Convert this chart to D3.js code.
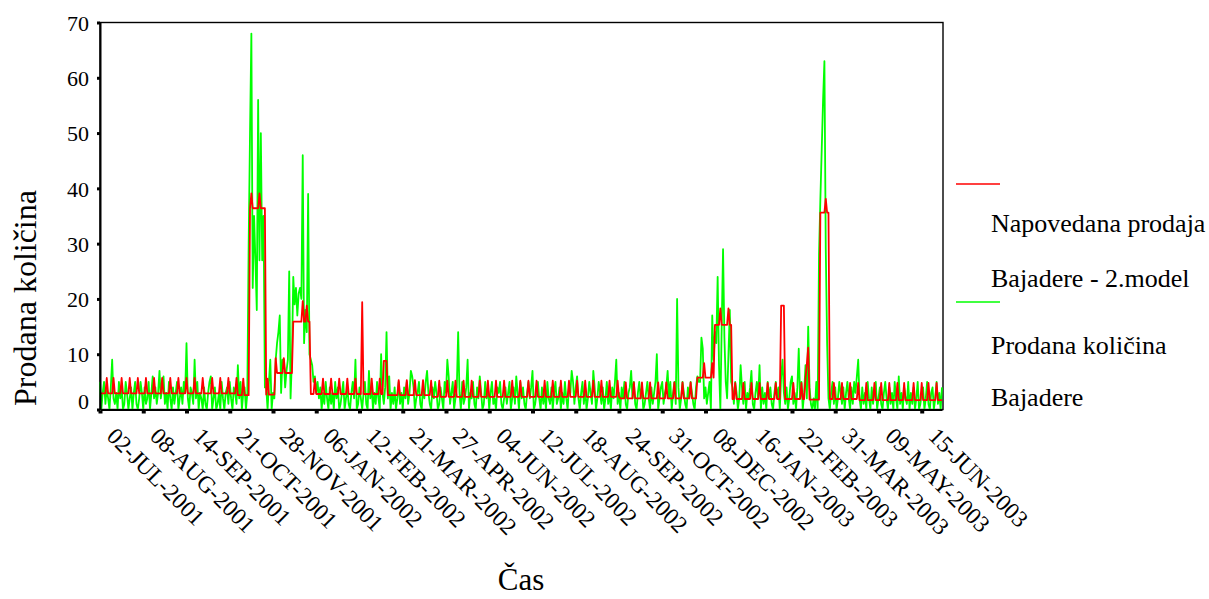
<!DOCTYPE html>
<html>
<head>
<meta charset="utf-8">
<script src="https://cdn.jsdelivr.net/npm/d3@7"></script>
<style>
  body { margin: 0; background: #fff; }
  svg { display: block; font-family: "Liberation Serif", "Times New Roman", serif; }
</style>
</head>
<body>
<div id="chart"></div>
<script>
/* global d3 */

const tickLabels = ["02-JUL-2001", "08-AUG-2001", "14-SEP-2001", "21-OCT-2001",
  "28-NOV-2001", "06-JAN-2002", "12-FEB-2002", "21-MAR-2002", "27-APR-2002",
  "04-JUN-2002", "12-JUL-2002", "18-AUG-2002", "24-SEP-2002", "31-OCT-2002",
  "08-DEC-2002", "16-JAN-2003", "22-FEB-2003", "31-MAR-2003", "09-MAY-2003",
  "15-JUN-2003"];

const yTicks = [0, 10, 20, 30, 40, 50, 60, 70];

// Prodana količina Bajadere (daily, Sundays skipped)
const sold = [
  5,0,3,5,1,4,2,0,4,9,2,1,
  3,0,5,2,4,0,1,5,3,0,2,4,
  0,3,5,1,0,2,5,3,0,4,1,2,
  5,0,3,6,2,4,1,3,7,2,4,6,
  1,3,0,5,2,0,4,1,3,5,0,2,
  4,1,5,3,12,2,0,4,3,1,9,2,
  5,0,3,2,0,4,1,0,3,5,6,0,
  2,4,0,1,3,0,5,2,0,3,4,1,
  5,2,0,4,3,1,8,2,5,0,3,4,
  0,3,30,50,68,22,35,27,18,56,27,50,
  27,35,4,4,0,5,9,0,3,2,9,12,
  14,17,3,9,9,4,7,9,25,2,9,24,
  19,22,17,21,22,20,46,12,18,14,39,10,
  9,8,5,6,3,5,2,4,0,3,1,5,
  2,0,4,1,3,0,5,2,4,0,1,3,
  5,0,2,4,1,0,3,5,2,9,0,1,
  4,2,0,3,5,1,0,7,2,4,0,3,
  1,5,2,0,10,3,1,4,14,2,6,0,
  3,1,4,0,2,5,1,3,0,4,2,5,
  1,3,7,6,4,0,2,3,5,1,0,4,
  2,5,7,3,1,0,4,2,5,3,0,1,
  4,2,0,5,3,9,6,1,3,5,0,2,
  4,14,3,0,5,1,2,4,9,0,3,2,
  5,1,0,4,2,6,3,0,1,5,2,4,
  0,3,5,1,2,0,4,3,5,1,0,2,
  4,1,3,5,0,2,4,1,6,3,0,5,
  2,4,1,0,3,5,2,4,7,0,1,3,
  5,2,0,4,1,3,0,5,2,1,4,0,
  3,5,1,2,4,0,3,1,5,2,0,4,
  3,7,5,1,4,6,2,0,3,5,1,4,
  0,2,5,3,1,7,4,0,2,5,3,1,
  4,0,2,5,1,3,0,4,2,5,9,1,
  3,0,4,2,5,1,0,3,4,7,2,5,
  1,0,3,5,2,4,0,1,3,5,2,0,
  4,1,3,5,10,0,2,4,5,1,3,4,
  7,2,5,0,3,5,1,20,4,0,2,5,
  3,1,0,4,2,5,3,1,0,4,6,5,
  5,13,11,2,4,1,3,5,0,17,9,14,
  12,24,8,0,15,29,13,5,2,10,18,5,
  4,1,5,3,0,2,8,4,1,5,0,3,
  2,4,7,1,0,3,5,2,8,0,4,1,
  3,0,5,2,4,1,0,3,5,2,4,0,
  6,9,3,1,4,0,2,5,6,1,3,0,
  4,11,2,5,0,3,8,2,15,4,1,0,
  2,0,5,0,28,38,47,56,63,29,12,2,
  0,3,5,1,4,0,2,5,3,1,4,0,
  3,5,2,0,4,1,5,3,6,9,2,0,
  4,1,3,0,5,2,0,4,1,3,5,0,
  2,4,1,0,3,5,2,0,4,1,3,0,
  5,2,0,6,1,3,0,4,2,1,5,0,
  3,1,4,0,2,5,0,1,3,4,0,2,
  5,1,0,3,4,0,2,5,1,3,0,4
];

// Napovedana prodaja Bajadere - 2.model
const forecast = [
  2.9,2.9,2.9,2.9,2.9,5.7,2.9,2.9,2.9,2.9,5.7,2.9,
  2.9,2.9,2.9,2.9,5.7,2.9,2.9,2.9,2.9,2.9,5.7,2.9,
  2.9,2.9,2.9,2.9,5.7,2.9,2.9,2.9,2.9,2.9,5.7,2.9,
  2.9,2.9,2.9,2.9,5.7,2.9,2.9,2.9,2.9,2.9,5.7,2.9,
  2.9,2.9,2.9,2.9,5.7,2.9,2.9,2.9,2.9,2.9,5.7,2.9,
  2.9,2.9,2.9,2.9,5.7,2.9,2.9,2.9,2.9,2.9,5.7,2.9,
  2.9,2.9,2.9,2.9,5.7,2.9,2.9,2.9,2.9,2.9,2.9,5.7,
  2.9,2.9,2.9,2.9,2.9,5.7,2.9,2.9,2.9,2.9,2.9,5.7,
  2.9,2.9,2.9,2.9,2.9,5.7,2.6,2.6,2.6,2.6,5.6,2.6,
  2.6,2.6,2.6,36.4,39.1,36.4,36.4,36.4,36.4,36.4,39.1,36.4,
  36.4,36.4,36.4,2.7,5.6,2.7,2.7,2.7,2.7,2.7,9.3,6.6,
  6.6,6.6,6.6,6.6,9.3,6.6,6.6,6.6,6.6,6.6,6.6,15.9,
  15.9,15.9,15.9,15.9,15.9,15.9,19.6,15.9,15.9,18.8,15.9,15.9,
  2.8,2.8,2.8,5.6,2.8,2.8,2.8,2.8,2.8,5.6,2.8,2.8,
  2.8,2.8,2.8,5.6,2.8,2.8,2.8,2.8,2.8,5.6,2.8,2.8,
  2.8,2.8,2.8,5.6,2.8,2.8,2.8,2.8,2.8,5.6,2.8,2.8,
  2.8,2.8,19.4,2.8,2.8,2.8,2.8,2.8,2.8,5.6,2.8,2.8,
  2.8,2.8,2.8,5.6,2.8,2.8,8.8,8.8,8.8,2.6,2.6,2.6,
  2.6,2.6,2.6,2.6,2.6,5.3,2.6,2.6,2.6,2.6,2.6,5.3,
  2.6,2.6,2.6,2.6,2.6,5.3,2.6,2.6,2.6,2.6,2.6,5.3,
  2.6,2.6,2.6,2.6,2.6,5.2,2.3,2.3,2.3,2.3,2.3,5.2,
  2.3,2.3,2.3,2.3,2.3,5.2,2.3,2.3,2.3,2.3,2.3,5.2,
  2.3,2.3,2.3,2.3,2.3,5.2,2.3,2.3,2.3,2.3,2.3,5.2,
  2.3,2.3,2.3,2.3,2.3,5.2,2.3,2.3,2.3,2.3,2.3,5.2,
  2.3,2.3,2.3,2.3,2.3,5.2,2.3,2.3,2.3,2.3,2.3,5.2,
  2.3,2.3,2.3,2.3,2.3,5.2,2.3,2.3,2.3,2.3,2.3,5.2,
  2.3,2.3,2.3,2.3,2.3,5.2,2.3,2.3,2.3,2.3,2.3,5.2,
  2.3,2.3,2.3,2.3,2.3,5.2,2.3,2.3,2.3,2.3,2.3,5.2,
  2.3,2.3,2.3,2.3,2.3,5.2,2.3,2.3,2.3,2.3,2.3,5.2,
  2.3,2.3,2.3,2.3,2.3,5.2,2.3,2.3,2.3,2.3,2.3,5.2,
  2.3,2.3,2.3,2.3,2.3,5.2,2.3,2.3,2.3,2.3,2.3,5.2,
  2.3,2.3,2.3,2.3,2.3,5.2,2.3,2.3,2.3,2.3,2.3,5.2,
  2.3,2.0,2.0,2.0,2.0,4.9,2.0,2.0,2.0,2.0,2.0,4.9,
  2.0,2.0,2.0,2.0,2.0,4.9,2.0,2.0,2.0,2.0,2.0,4.9,
  2.0,2.0,2.0,2.0,2.0,4.9,2.0,2.0,2.0,2.0,2.0,4.9,
  2.0,2.0,2.0,2.0,2.0,4.9,2.0,2.0,2.0,2.0,2.0,4.9,
  2.0,2.0,2.0,2.0,2.0,4.9,2.0,2.0,2.0,2.0,5.75,5.75,
  5.75,5.75,5.75,8.4,5.75,5.75,5.75,5.75,5.75,8.4,5.75,15.3,
  15.3,15.3,15.3,18.3,15.3,15.3,15.3,15.3,15.3,18.3,15.3,15.3,
  1.9,1.9,4.8,1.9,1.9,1.9,1.9,1.9,4.8,1.9,1.9,1.9,
  1.9,1.9,4.8,1.9,1.9,1.9,1.9,1.9,4.8,1.9,1.9,1.9,
  1.9,1.9,4.8,1.9,1.9,1.9,1.9,1.9,4.8,1.9,1.9,1.9,
  18.8,18.8,18.8,1.9,1.9,1.9,1.9,1.9,1.9,4.8,1.9,1.9,
  1.9,1.9,1.9,4.8,1.9,1.9,5.6,8.2,11.2,1.8,1.8,1.8,
  1.8,1.8,1.8,1.8,1.8,35.6,35.6,35.6,35.6,38.1,35.6,35.6,
  1.9,1.9,1.9,4.8,1.9,1.9,1.9,1.9,1.9,4.8,1.9,1.9,
  1.9,1.9,1.9,4.8,1.9,1.9,1.9,1.9,1.9,4.8,1.7,1.7,
  1.7,1.7,1.7,4.8,1.7,1.7,1.7,1.7,1.7,4.8,1.7,1.7,
  1.7,1.7,4.8,1.7,1.7,1.7,1.7,1.7,4.8,1.7,1.7,1.7,
  1.7,1.7,4.8,1.7,1.7,1.7,1.7,4.8,1.7,1.7,1.7,1.7,
  1.7,1.7,4.8,1.7,1.7,1.7,1.7,1.7,4.8,1.7,1.7,1.7,
  1.7,4.8,1.7,1.7,1.7,1.7,1.7,4.8,1.7,1.7,1.7,1.7
];

const width = 1209,
  height = 599;
const plot = {left: 100, right: 943, top: 22.5, bottom: 409.5};
const tickEvery = 32; // one date label every 32 cases

const svg = d3.select("#chart")
  .append("svg")
  .attr("width", width)
  .attr("height", height);

const x = d3.scaleLinear()
  .domain([0, sold.length - 1])
  .range([plot.left, plot.right - 1]);

const y = d3.scaleLinear()
  .domain([0, 70])
  .range([plot.bottom, plot.top]);

// frame round the plot area
svg.append("rect")
  .attr("x", plot.left)
  .attr("y", plot.top)
  .attr("width", plot.right - plot.left)
  .attr("height", plot.bottom - plot.top)
  .attr("fill", "none")
  .attr("stroke", "#000")
  .attr("stroke-width", 1.4);

const line = d3.line()
  .x((d, i) => x(i))
  .y(d => y(d));

svg.append("path")
  .datum(sold)
  .attr("d", line)
  .attr("fill", "none")
  .attr("stroke", "#00ff00")
  .attr("stroke-width", 1.8)
  .attr("stroke-linejoin", "round");

svg.append("path")
  .datum(forecast)
  .attr("d", line)
  .attr("fill", "none")
  .attr("stroke", "#ff0000")
  .attr("stroke-width", 1.8)
  .attr("stroke-linejoin", "round");

// y axis, square tick marks
const yAxis = svg.append("g")
  .attr("transform", "translate(" + plot.left + ",0)")
  .call(d3.axisLeft(y).tickValues(yTicks).tickSize(3).tickSizeOuter(0).tickPadding(8));

yAxis.attr("font-family", null).attr("font-size", 22);
yAxis.select(".domain").attr("stroke-width", 2);
yAxis.selectAll(".tick line").attr("stroke-width", 3);
yAxis.selectAll(".tick text")
  .attr("fill", "#000")
  .attr("dy", d => d === 0 ? "-0.05em" : "0.35em");

// x axis, date labels turned 45 degrees
const xAxis = svg.append("g")
  .attr("transform", "translate(0," + plot.bottom + ")")
  .call(d3.axisBottom(x)
    .tickValues(tickLabels.map((t, i) => i * tickEvery))
    .tickFormat((d, i) => tickLabels[i])
    .tickSize(4)
    .tickSizeOuter(0));

xAxis.attr("font-family", null).attr("font-size", 23.5);
xAxis.select(".domain").attr("stroke-width", 2);
xAxis.selectAll(".tick line").attr("stroke-width", 4).attr("y1", 1);
xAxis.selectAll(".tick text")
  .attr("fill", "#000")
  .attr("y", 0)
  .attr("dy", null)
  .attr("text-anchor", "start")
  .attr("transform", "translate(5,28) rotate(45)");

// axis titles
svg.append("text")
  .attr("x", 521)
  .attr("y", 590)
  .attr("text-anchor", "middle")
  .attr("font-size", 31)
  .text("Čas");

svg.append("text")
  .attr("transform", "translate(36,298) rotate(-90)")
  .attr("text-anchor", "middle")
  .attr("font-size", 32)
  .text("Prodana količina");

// legend
const legend = svg.append("g").attr("font-size", 26);

legend.append("line")
  .attr("x1", 956).attr("x2", 1000)
  .attr("y1", 184).attr("y2", 184)
  .attr("stroke", "#ff0000")
  .attr("stroke-width", 1.6);

legend.append("line")
  .attr("x1", 956).attr("x2", 1000)
  .attr("y1", 302).attr("y2", 302)
  .attr("stroke", "#00ff00")
  .attr("stroke-width", 1.6);

legend.append("text").attr("x", 991).attr("y", 232).text("Napovedana prodaja");
legend.append("text").attr("x", 991).attr("y", 287).text("Bajadere - 2.model");
legend.append("text").attr("x", 991).attr("y", 354).text("Prodana količina");
legend.append("text").attr("x", 991).attr("y", 406).text("Bajadere");
</script>
</body>
</html>
